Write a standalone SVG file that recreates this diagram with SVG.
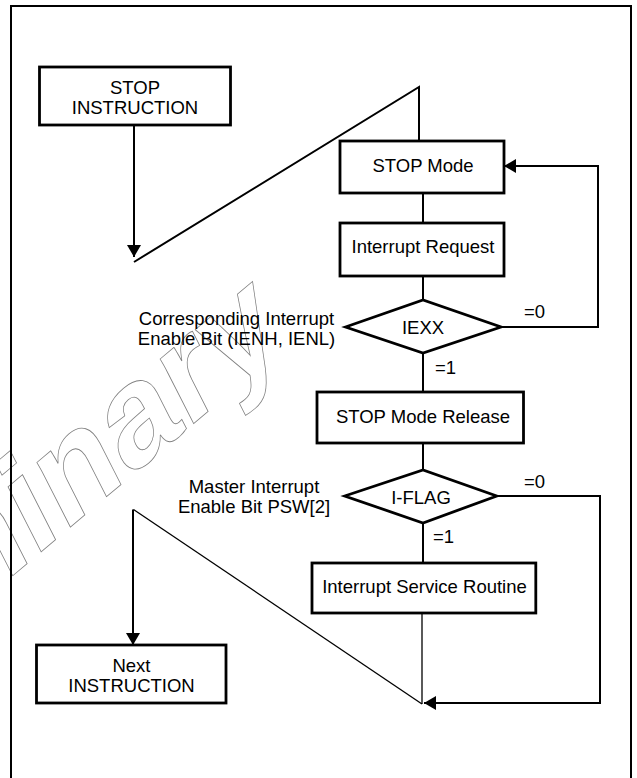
<svg xmlns="http://www.w3.org/2000/svg" width="637" height="778" viewBox="0 0 637 778">
<style>
.box{fill:#fff;stroke:#000;stroke-width:2.8}
.lbl{font-family:"Liberation Sans",Arial,sans-serif;font-size:18.5px;fill:#000}
.mid{text-anchor:middle}
.ln{fill:none;stroke:#000;stroke-width:2}
.thin{fill:none;stroke:#000;stroke-width:1.3}
.wm{font-family:"Liberation Sans",Arial,sans-serif;font-weight:bold;font-size:138px;fill:none;stroke:#808080;stroke-width:0.8}
</style>
<defs>
<marker id="ah" markerUnits="userSpaceOnUse" markerWidth="12" markerHeight="14" viewBox="0 0 12 14" refX="12" refY="7" orient="auto">
<path d="M0,0 L12,7 L0,14 z" fill="#000"/>
</marker>
</defs>
<rect x="0" y="0" width="637" height="778" fill="#fff"/>
<text class="wm" x="-441" y="0" transform="matrix(0.766,-0.643,0.454,0.891,48.3,545.7)">Preliminary</text>
<rect x="11" y="6" width="620" height="800" fill="none" stroke="#000" stroke-width="2"/>
<g id="connectors">
<path class="ln" d="M134,125 V257" marker-end="url(#ah)"/>
<path class="ln" d="M134,262 L419,87 V141"/>
<path class="ln" d="M423,193 V223"/>
<path class="ln" d="M423,276 V300"/>
<path class="ln" d="M501,327 H598 V166 H504" marker-end="url(#ah)"/>
<path class="ln" d="M423,353 V392"/>
<path class="ln" d="M423,443 V470"/>
<path class="ln" d="M423,523 V563"/>
<path class="thin" d="M422,613 V704"/>
<path class="thin" d="M133.5,509.5 L422,704"/>
<path class="ln" d="M133,509.5 V645" marker-end="url(#ah)"/>
<path class="ln" d="M497,496 H600 V703 H424" marker-end="url(#ah)"/>
<text class="lbl" x="524" y="318">=0</text>
<text class="lbl" x="435" y="373.5">=1</text>
<text class="lbl" x="524" y="488">=0</text>
<text class="lbl" x="433" y="543">=1</text>
</g>
<g id="stop-instruction">
<rect class="box" x="39.5" y="67" width="191" height="58"/>
<text class="lbl mid" x="135" y="94">STOP</text>
<text class="lbl mid" x="135" y="113.5">INSTRUCTION</text>
</g>
<g id="stop-mode">
<rect class="box" x="340" y="141" width="164" height="52"/>
<text class="lbl mid" x="423" y="171.5">STOP Mode</text>
</g>
<g id="interrupt-request">
<rect class="box" x="340" y="223" width="164" height="53"/>
<text class="lbl mid" x="423" y="253">Interrupt Request</text>
</g>
<g id="iexx">
<polygon class="box" points="345.5,327 423,300 501,327 423,353"/>
<text class="lbl mid" x="423" y="333.5">IEXX</text>
<text class="lbl mid" x="236.5" y="325">Corresponding Interrupt</text>
<text class="lbl mid" x="236.5" y="345">Enable Bit (IENH, IENL)</text>
</g>
<g id="stop-mode-release">
<rect class="box" x="317" y="392" width="206.5" height="51"/>
<text class="lbl mid" x="423" y="423.3">STOP Mode Release</text>
</g>
<g id="i-flag">
<polygon class="box" points="344.7,496 423,470 496.7,496 423,523"/>
<text class="lbl mid" x="421" y="504">I-FLAG</text>
<text class="lbl mid" x="254" y="492.7">Master Interrupt</text>
<text class="lbl mid" x="254" y="513.3">Enable Bit PSW[2]</text>
</g>
<g id="interrupt-service-routine">
<rect class="box" x="312" y="563" width="223.8" height="50"/>
<text class="lbl mid" x="424.5" y="593.3">Interrupt Service Routine</text>
</g>
<g id="next-instruction">
<rect class="box" x="36.5" y="645" width="189.5" height="58"/>
<text class="lbl mid" x="131.5" y="671.7">Next</text>
<text class="lbl mid" x="131.5" y="691.7">INSTRUCTION</text>
</g>
</svg>
